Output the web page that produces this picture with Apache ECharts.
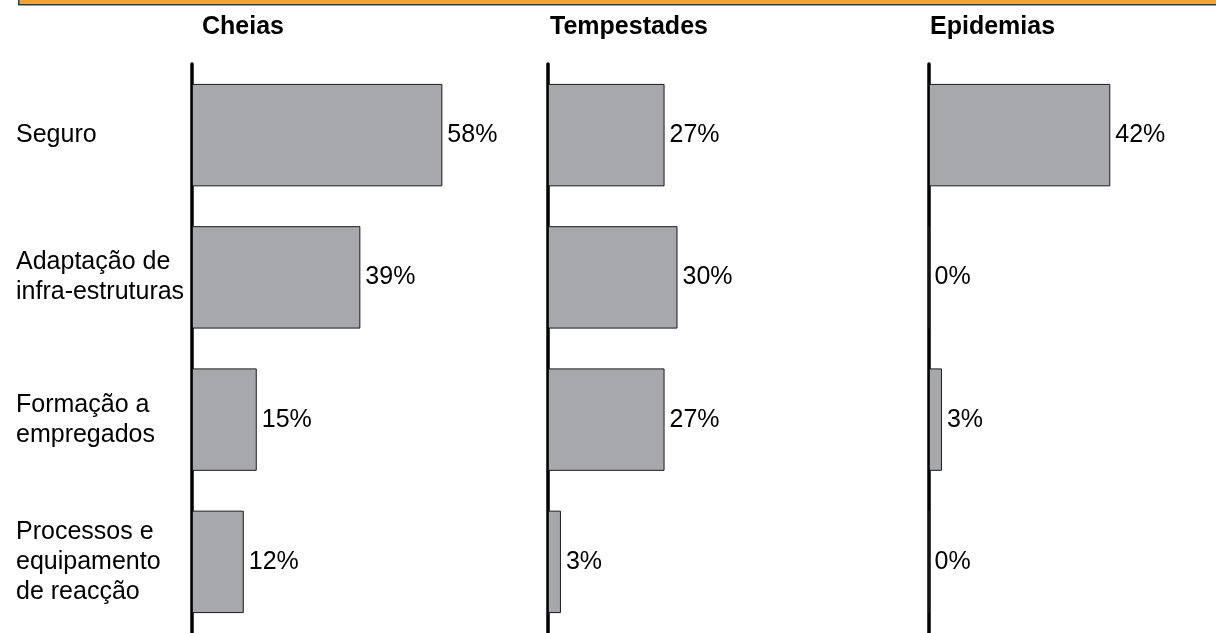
<!DOCTYPE html>
<html>
<head>
<meta charset="utf-8">
<script src="https://cdn.jsdelivr.net/npm/echarts@6/dist/echarts.min.js"></script>
<style>
html,body{margin:0;padding:0;background:#fff;}
#chart{width:1216px;height:633px;}
</style>
</head>
<body>
<div id="chart"></div>
<script>
const categories = ['Seguro', 'Adaptação de\ninfra-estruturas', 'Formação a\nempregados', 'Processos e\nequipamento\nde reacção'];
const panelTitles = ['Cheias', 'Tempestades', 'Epidemias'];
const cheias = [58, 39, 15, 12];
const tempestades = [27, 30, 27, 3];
const epidemias = [42, 0, 3, 0];

const FONT = "'Liberation Sans', Arial, sans-serif";
const panels = [cheias, tempestades, epidemias];
const lefts = [192, 548, 929];
const titleLefts = [202, 550, 930];
const W = 259;

const chart = echarts.init(document.getElementById('chart'), null, {renderer: 'canvas'});

const grid = [], xAxis = [], yAxis = [], series = [], title = [];
panels.forEach((vals, i) => {
  grid.push({left: lefts[i], top: 64, width: W, height: 572, containLabel: false});
  xAxis.push({type: 'value', gridIndex: i, min: 0, max: 60, show: false});
  yAxis.push({
    type: 'category', gridIndex: i, data: categories, inverse: true,
    axisLine: {show: true, lineStyle: {color: '#000', width: 3.5}},
    axisTick: {show: false},
    splitLine: {show: false},
    axisLabel: {
      show: i === 0, align: 'left', margin: 176,
      fontFamily: FONT, fontSize: 25, lineHeight: 30, color: '#000'
    }
  });
  series.push({
    type: 'bar', xAxisIndex: i, yAxisIndex: i, data: vals,
    barCategoryGap: '28%',
    itemStyle: {color: '#A7A8AC', borderColor: '#1a1a1a', borderWidth: 1},
    label: {
      show: true, position: 'right', distance: 5,
      formatter: '{c}%', fontFamily: FONT, fontSize: 25, color: '#000'
    },
    silent: true, animation: false
  });
  title.push({
    text: panelTitles[i], left: titleLefts[i], top: 15, padding: 0,
    textStyle: {fontFamily: FONT, fontSize: 25, fontWeight: 'bold', color: '#000'}
  });
});

chart.setOption({
  animation: false,
  backgroundColor: '#fff',
  title: title,
  grid: grid,
  xAxis: xAxis,
  yAxis: yAxis,
  series: series,
  graphic: [{
    type: 'rect', left: 18, top: -6,
    shape: {x: 0, y: 0, width: 1210, height: 10},
    style: {fill: '#F4A436', stroke: '#3a3a3a', lineWidth: 1.5}
  }]
});
</script>
</body>
</html>
